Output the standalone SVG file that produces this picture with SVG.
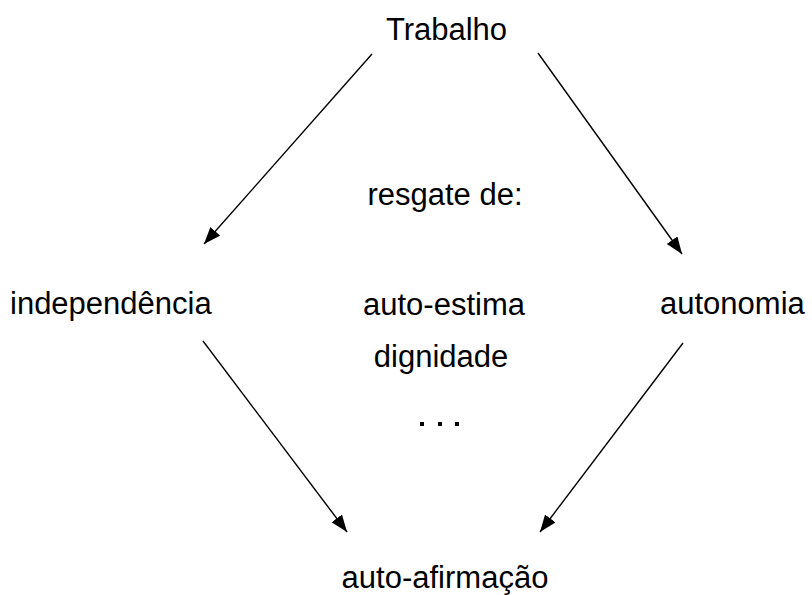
<svg xmlns="http://www.w3.org/2000/svg" width="812" height="595" viewBox="0 0 812 595">
<style>
text{font-family:"Liberation Sans",Arial,sans-serif;font-size:31px;fill:#000}
.c{text-anchor:middle}
line{stroke:#000;stroke-width:1.4;marker-end:url(#ah)}
</style>
<defs>
<marker id="ah" markerUnits="userSpaceOnUse" markerWidth="18" markerHeight="14" refX="17" refY="6.5" orient="auto">
<path d="M0,0 L17,6.5 L0,13 z" fill="#000"/>
</marker>
</defs>
<rect width="812" height="595" fill="#fff"/>
<g id="connectors">
<line x1="372" y1="54" x2="204" y2="244"/>
<line x1="538" y1="53" x2="682" y2="254"/>
<line x1="203" y1="341" x2="347" y2="532"/>
<line x1="683" y1="343" x2="540" y2="532"/>
</g>
<g id="trabalho"><text class="c" x="446.5" y="40">Trabalho</text></g>
<g id="resgate"><text class="c" x="445" y="205">resgate de:</text></g>
<g id="independencia"><text x="10" y="314">independência</text></g>
<g id="autonomia"><text x="660" y="314">autonomia</text></g>
<g id="lista">
<text class="c" x="444" y="315">auto-estima</text>
<text class="c" x="441" y="367">dignidade</text>
<rect x="420" y="422" width="4" height="4" fill="#000"/>
<rect x="438" y="422" width="4" height="4" fill="#000"/>
<rect x="455" y="422" width="4" height="4" fill="#000"/>
</g>
<g id="autoafirmacao"><text class="c" x="445" y="588">auto-afirmação</text></g>
</svg>
